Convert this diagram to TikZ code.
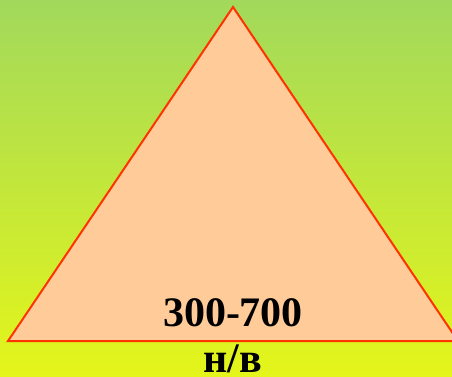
\documentclass[tikz,border=0pt]{standalone}
\usepackage{fontspec}
\setmainfont{Liberation Serif}
\definecolor{topgreen}{HTML}{A2D95C}
\definecolor{botyellow}{HTML}{E4F519}
\definecolor{peach}{HTML}{FFCC99}
\definecolor{edgered}{HTML}{FF3300}
\tikzset{
  bigtext/.style={anchor=base, inner sep=0pt, font=\fontsize{42}{42}\selectfont\bfseries},
}
\begin{document}
\begin{tikzpicture}[x=1pt, y=1pt]
\useasboundingbox (0,0) rectangle (452,-377);
\clip (0,0) rectangle (452,-377);
\shade[top color=topgreen, bottom color=botyellow] (0,0) rectangle (452,-377);
\draw[edgered, fill=peach, line width=2pt, line join=miter] (233,-7) -- (8,-341) -- (458,-341) -- cycle;
\node[bigtext] (range) at (233,-326) {300-700};
\node[bigtext] (unit) at (233,-372) {н/в};
\end{tikzpicture}
\end{document}
